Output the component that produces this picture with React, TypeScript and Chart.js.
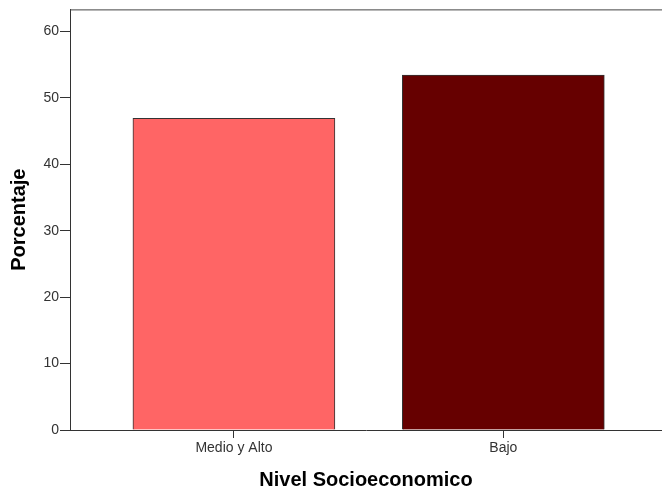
import React, { useEffect, useRef } from "react";
import { Chart, registerables } from "chart.js";

Chart.register(...registerables);

const categories = ["Medio y Alto", "Bajo"];
const percentages = [46.9, 53.4];
const barColors = ["#FF6565", "#660000"];
const yTitle = "Porcentaje";
const xTitle = "Nivel Socioeconomico";

const FONT = "'Liberation Sans', Arial, sans-serif";

export default function App() {
  const ref = useRef<HTMLCanvasElement | null>(null);

  useEffect(() => {
    if (!ref.current) return;
    const topLine = {
      id: "topLine",
      afterDraw(chart: any) {
        const { ctx, chartArea } = chart;
        ctx.save();
        ctx.strokeStyle = "#444";
        ctx.lineWidth = 1;
        ctx.beginPath();
        ctx.moveTo(chartArea.left, chartArea.top + 0.5);
        ctx.lineTo(chart.width, chartArea.top + 0.5);
        ctx.stroke();
        ctx.restore();
      },
    };
    const chart = new Chart(ref.current, {
      type: "bar",
      data: {
        datasets: [
          {
            data: categories.map((_, i) => ({ x: i, y: percentages[i] })),
            backgroundColor: barColors,
            borderColor: "#333",
            borderWidth: 1,
            barThickness: 202,
          },
        ],
      },
      options: {
        responsive: false,
        animation: false,
        layout: { padding: { top: 8, left: 0, right: 0, bottom: 0 } },
        plugins: { legend: { display: false }, tooltip: { enabled: false } },
        scales: {
          x: {
            type: "linear",
            min: -0.6084,
            max: 1.589,
            offset: false,
            afterFit: (s: any) => {
              s.height = 63;
            },
            afterBuildTicks: (s: any) => {
              s.ticks = categories.map((_, i) => ({ value: i }));
            },
            grid: {
              offset: false,
              drawOnChartArea: false,
              drawTicks: true,
              tickLength: 8,
              color: "#333",
            },
            border: { display: true, color: "#333", width: 1 },
            ticks: {
              autoSkip: false,
              maxRotation: 0,
              padding: 2,
              color: "#333",
              font: { family: FONT, size: 14 },
              callback: (v: any) => categories[Math.round(Number(v))] ?? "",
            },
            title: {
              display: true,
              text: xTitle,
              color: "#000",
              font: { family: FONT, size: 20, weight: "bold" },
              padding: { top: 0, bottom: 1 },
            },
          },
          y: {
            min: 0,
            max: 63.3,
            afterFit: (s: any) => {
              s.width = 70;
            },
            grid: {
              drawOnChartArea: false,
              drawTicks: true,
              tickLength: 10,
              color: "#333",
            },
            border: { display: true, color: "#333", width: 1 },
            ticks: {
              stepSize: 10,
              includeBounds: false,
              padding: 1,
              color: "#333",
              font: { family: FONT, size: 14 },
            },
            title: {
              display: true,
              text: yTitle,
              color: "#000",
              font: { family: FONT, size: 20, weight: "bold" },
              padding: { top: 7.5, bottom: 0 },
            },
          },
        },
      },
      plugins: [topLine],
    });
    return () => chart.destroy();
  }, []);

  return (
    <div style={{ position: "absolute", left: 0, top: 0, width: 662, height: 493, background: "#fff" }}>
      <canvas ref={ref} width={662} height={493} />
    </div>
  );
}
